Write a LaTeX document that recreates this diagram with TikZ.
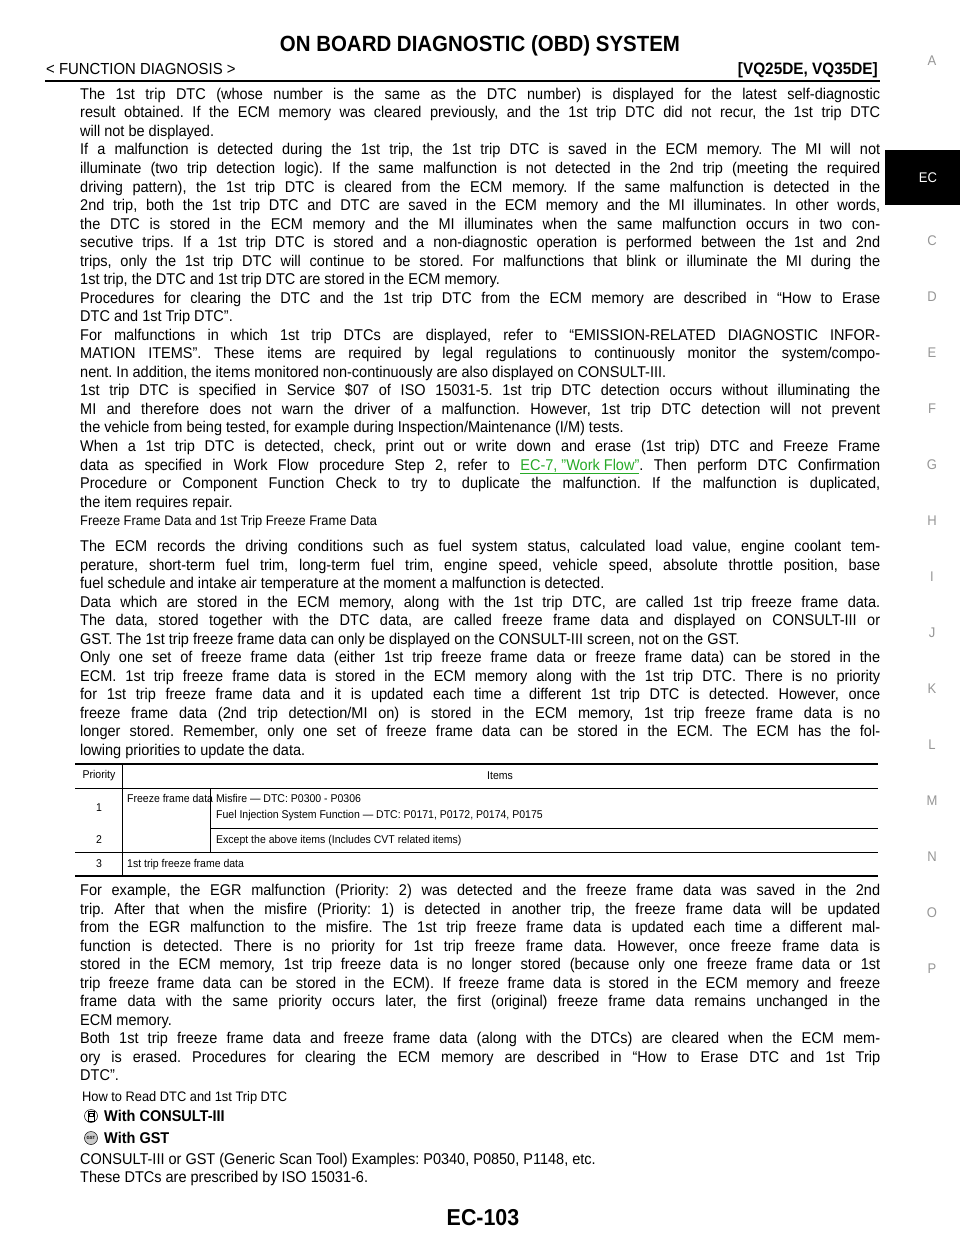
\documentclass[tikz,border=0pt]{standalone}
\usepackage{fontspec}
\setmainfont{Liberation Sans}[FakeStretch=0.93]
\frenchspacing
\definecolor{lnk}{RGB}{40,170,40}
\definecolor{tabg}{RGB}{150,150,150}
\newcommand{\JL}[2]{\node[anchor=base west,inner sep=0] at (80,#1) {\fontsize{15.6}{17}\selectfont\makebox[800pt][s]{#2}};}
\newcommand{\EL}[2]{\node[anchor=base west,inner sep=0] at (80,#1) {\fontsize{15.6}{17}\selectfont #2};}
\newcommand{\TT}[3]{\node[anchor=base west,inner sep=0] at (#1,#2) {\fontsize{11.3}{12}\selectfont #3};}
\begin{document}
\begin{tikzpicture}[x=1pt,y=-1pt]
\useasboundingbox (0,0) rectangle (960,1242);
\fill[white] (0,0) rectangle (960,1242);
% header
\node[anchor=base,inner sep=0] at (480,51) {\fontsize{22}{24}\selectfont\bfseries ON BOARD DIAGNOSTIC (OBD) SYSTEM};
\node[anchor=base west,inner sep=0] at (46,74) {\fontsize{16}{16}\selectfont < FUNCTION DIAGNOSIS >};
\node[anchor=base east,inner sep=0] at (878,74) {\fontsize{16.5}{16}\selectfont\bfseries [VQ25DE, VQ35DE]};
\draw[line width=2.2pt] (45,81) -- (880,81);
% tabs
\fill[black] (885,150) rectangle (960,205);
\node[white] at (928,178) {\fontsize{14}{14}\selectfont EC};
\foreach \l/\y in {A/61,C/241,D/297,E/353,F/409,G/465,H/521,I/577,J/633,K/689,L/745,M/801,N/857,O/913,P/969}
  \node[tabg] at (932,\y) {\fontsize{14}{14}\selectfont \l};
% paragraph 1
\JL{99}{The 1st trip DTC (whose number is the same as the DTC number) is displayed for the latest self-diagnostic}
\JL{117}{result obtained. If the ECM memory was cleared previously, and the 1st trip DTC did not recur, the 1st trip DTC}
\EL{136}{will not be displayed.}
\JL{154}{If a malfunction is detected during the 1st trip, the 1st trip DTC is saved in the ECM memory. The MI will not}
\JL{173}{illuminate (two trip detection logic). If the same malfunction is not detected in the 2nd trip (meeting the required}
\JL{192}{driving pattern), the 1st trip DTC is cleared from the ECM memory. If the same malfunction is detected in the}
\JL{210}{2nd trip, both the 1st trip DTC and DTC are saved in the ECM memory and the MI illuminates. In other words,}
\JL{229}{the DTC is stored in the ECM memory and the MI illuminates when the same malfunction occurs in two con-}
\JL{247}{secutive trips. If a 1st trip DTC is stored and a non-diagnostic operation is performed between the 1st and 2nd}
\JL{266}{trips, only the 1st trip DTC will continue to be stored. For malfunctions that blink or illuminate the MI during the}
\EL{284}{1st trip, the DTC and 1st trip DTC are stored in the ECM memory.}
\JL{303}{Procedures for clearing the DTC and the 1st trip DTC from the ECM memory are described in “How to Erase}
\EL{321}{DTC and 1st Trip DTC”.}
\JL{340}{For malfunctions in which 1st trip DTCs are displayed, refer to “EMISSION-RELATED DIAGNOSTIC INFOR-}
\JL{358}{MATION ITEMS”. These items are required by legal regulations to continuously monitor the system/compo-}
\EL{377}{nent. In addition, the items monitored non-continuously are also displayed on CONSULT-III.}
\JL{395}{1st trip DTC is specified in Service \$07 of ISO 15031-5. 1st trip DTC detection occurs without illuminating the}
\JL{414}{MI and therefore does not warn the driver of a malfunction. However, 1st trip DTC detection will not prevent}
\EL{432}{the vehicle from being tested, for example during Inspection/Maintenance (I/M) tests.}
\JL{451}{When a 1st trip DTC is detected, check, print out or write down and erase (1st trip) DTC and Freeze Frame}
\JL{470}{data as specified in Work Flow procedure Step 2, refer to \textcolor{lnk}{\underline{EC-7, "Work Flow"}}. Then perform DTC Confirmation}
\JL{488}{Procedure or Component Function Check to try to duplicate the malfunction. If the malfunction is duplicated,}
\EL{507}{the item requires repair.}
% heading
\node[anchor=base west,inner sep=0] at (80,525) {\fontsize{13.8}{14}\selectfont Freeze Frame Data and 1st Trip Freeze Frame Data};
% paragraph 2
\JL{551}{The ECM records the driving conditions such as fuel system status, calculated load value, engine coolant tem-}
\JL{570}{perature, short-term fuel trim, long-term fuel trim, engine speed, vehicle speed, absolute throttle position, base}
\EL{588}{fuel schedule and intake air temperature at the moment a malfunction is detected.}
\JL{607}{Data which are stored in the ECM memory, along with the 1st trip DTC, are called 1st trip freeze frame data.}
\JL{625}{The data, stored together with the DTC data, are called freeze frame data and displayed on CONSULT-III or}
\EL{644}{GST. The 1st trip freeze frame data can only be displayed on the CONSULT-III screen, not on the GST.}
\JL{662}{Only one set of freeze frame data (either 1st trip freeze frame data or freeze frame data) can be stored in the}
\JL{681}{ECM. 1st trip freeze frame data is stored in the ECM memory along with the 1st trip DTC. There is no priority}
\JL{699}{for 1st trip freeze frame data and it is updated each time a different 1st trip DTC is detected. However, once}
\JL{718}{freeze frame data (2nd trip detection/MI on) is stored in the ECM memory, 1st trip freeze frame data is no}
\JL{736}{longer stored. Remember, only one set of freeze frame data can be stored in the ECM. The ECM has the fol-}
\EL{755}{lowing priorities to update the data.}
% table
\draw[line width=1.6pt] (75,764) -- (878,764);
\draw[line width=0.5pt] (75,788) -- (878,788);
\draw[line width=0.5pt] (210,828) -- (878,828);
\draw[line width=0.5pt] (75,852) -- (878,852);
\draw[line width=1.6pt] (75,876) -- (878,876);
\draw[line width=0.5pt] (122,764) -- (122,876);
\draw[line width=0.5pt] (210,788) -- (210,852);
\node[inner sep=0] at (99,776) {\fontsize{11.3}{12}\selectfont Priority};
\node[inner sep=0] at (500,776) {\fontsize{11.3}{12}\selectfont Items};
\node[inner sep=0] at (99,808) {\fontsize{11.3}{12}\selectfont 1};
\node[inner sep=0] at (99,840) {\fontsize{11.3}{12}\selectfont 2};
\node[inner sep=0] at (99,864) {\fontsize{11.3}{12}\selectfont 3};
\TT{127}{802}{Freeze frame data}
\TT{216}{802}{Misfire — DTC: P0300 - P0306}
\TT{216}{818}{Fuel Injection System Function — DTC: P0171, P0172, P0174, P0175}
\TT{216}{843}{Except the above items (Includes CVT related items)}
\TT{127}{867}{1st trip freeze frame data}
% paragraph 3
\JL{895}{For example, the EGR malfunction (Priority: 2) was detected and the freeze frame data was saved in the 2nd}
\JL{914}{trip. After that when the misfire (Priority: 1) is detected in another trip, the freeze frame data will be updated}
\JL{932}{from the EGR malfunction to the misfire. The 1st trip freeze frame data is updated each time a different mal-}
\JL{951}{function is detected. There is no priority for 1st trip freeze frame data. However, once freeze frame data is}
\JL{969}{stored in the ECM memory, 1st trip freeze data is no longer stored (because only one freeze frame data or 1st}
\JL{988}{trip freeze frame data can be stored in the ECM). If freeze frame data is stored in the ECM memory and freeze}
\JL{1006}{frame data with the same priority occurs later, the first (original) freeze frame data remains unchanged in the}
\EL{1025}{ECM memory.}
\JL{1043}{Both 1st trip freeze frame data and freeze frame data (along with the DTCs) are cleared when the ECM mem-}
\JL{1062}{ory is erased. Procedures for clearing the ECM memory are described in “How to Erase DTC and 1st Trip}
\EL{1080}{DTC”.}
\node[anchor=base west,inner sep=0] at (82,1101) {\fontsize{13.8}{14}\selectfont How to Read DTC and 1st Trip DTC};
% icons
\node[circle,draw,line width=0.5pt,minimum size=13pt,inner sep=0] (ic1) at (91,1116) {};
\draw[line width=0.6pt] (88,1111) rectangle (94,1121);
\draw[line width=0.5pt] (89,1113) rectangle (93,1116);
\node[anchor=base west,inner sep=0] at (104,1121) {\fontsize{15.6}{16}\selectfont\bfseries With CONSULT-III};
\node[circle,draw,fill=gray!40,line width=0.5pt,minimum size=13pt,inner sep=0] (ic2) at (91,1138) {\fontsize{4.5}{5}\selectfont\bfseries GST};
\node[anchor=base west,inner sep=0] at (104,1143) {\fontsize{15.6}{16}\selectfont\bfseries With GST};
\EL{1164}{CONSULT-III or GST (Generic Scan Tool) Examples: P0340, P0850, P1148, etc.}
\EL{1182}{These DTCs are prescribed by ISO 15031-6.}
\node[anchor=base,inner sep=0] at (483,1225) {\fontsize{23}{24}\selectfont\bfseries EC-103};
\end{tikzpicture}
\end{document}
